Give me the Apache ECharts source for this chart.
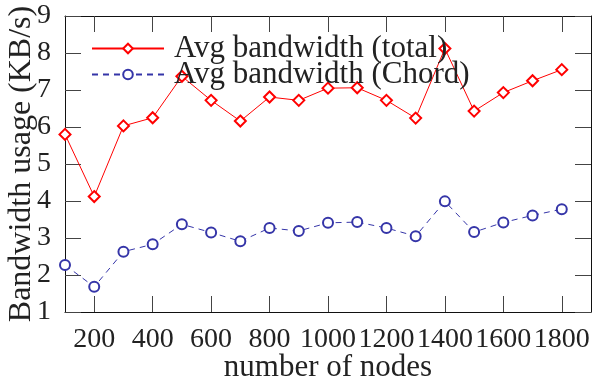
<!DOCTYPE html>
<html>
<head>
<meta charset="utf-8">
<script src="https://cdn.jsdelivr.net/npm/echarts@6/dist/echarts.min.js"></script>
<style>
html,body{margin:0;padding:0;background:#fff}
#wrap{position:relative;width:593px;height:379px}
#axes,#plot{position:absolute;left:0;top:0;width:593px;height:379px}
</style>
</head>
<body>
<div id="wrap"><div id="axes"></div><div id="plot"></div></div>
<script>
const nodes = [100,200,300,400,500,600,700,800,900,1000,1100,1200,1300,1400,1500,1600,1700,1800];
const totalBw = [5.80,4.12,6.03,6.25,7.37,6.72,6.16,6.81,6.72,7.05,7.06,6.72,6.24,8.12,6.43,6.93,7.25,7.55];
const chordBw = [2.27,1.68,2.63,2.83,3.37,3.15,2.91,3.27,3.19,3.41,3.43,3.27,3.05,3.99,3.16,3.42,3.61,3.78];
const xTicks = [200,400,600,800,1000,1200,1400,1600,1800];
const seriesNames = ['Avg bandwidth (total)','Avg bandwidth (Chord)'];
const xTitle = 'number of nodes';
const yTitle = 'Bandwidth usage (KB/s)';

const FONT = 'Liberation Serif';
const TXT = '#222';
const GRID = {left:65, right:2, top:16, bottom:67, containLabel:false, outerBoundsMode:'none'};

// Layer 1: frame, inward ticks and tick labels
const axesChart = echarts.init(document.getElementById('axes'), null, {renderer:'canvas'});
axesChart.setOption({
  animation:false,
  backgroundColor:'#fff',
  grid:Object.assign({}, GRID),
  xAxis:[{
    type:'value', min:100, max:1900, position:'bottom',
    axisLine:{show:true, lineStyle:{color:'#111'}},
    axisTick:{show:true, inside:true, length:16, customValues:xTicks, lineStyle:{color:'#444'}},
    axisLabel:{customValues:xTicks, formatter:v=>String(v), fontFamily:FONT, fontSize:28, color:TXT, margin:14},
    splitLine:{show:false}
  },{
    type:'value', min:100, max:1900, position:'top',
    axisLine:{show:true, lineStyle:{color:'#111'}},
    axisTick:{show:true, inside:true, length:16, customValues:xTicks, lineStyle:{color:'#444'}},
    axisLabel:{show:false}, splitLine:{show:false}
  }],
  yAxis:[{
    type:'value', min:1, max:9, interval:1, position:'left',
    axisLine:{show:true, lineStyle:{color:'#111'}},
    axisTick:{show:true, inside:true, length:16, lineStyle:{color:'#444'}},
    axisLabel:{fontFamily:FONT, fontSize:28, color:TXT, margin:14},
    splitLine:{show:false}
  },{
    type:'value', min:1, max:9, interval:1, position:'right',
    axisLine:{show:true, lineStyle:{color:'#111'}},
    axisTick:{show:true, inside:true, length:16, lineStyle:{color:'#444'}},
    axisLabel:{show:false}, splitLine:{show:false}
  }],
  series:[]
});

// Layer 2: data series, legend and axis titles (same grid and scales)
const plotChart = echarts.init(document.getElementById('plot'), null, {renderer:'canvas'});
plotChart.setOption({
  animation:false,
  backgroundColor:'transparent',
  grid:Object.assign({}, GRID),
  legend:{
    left:86, top:28, orient:'vertical', itemWidth:72, itemHeight:12, itemGap:-5,
    data:seriesNames,
    textStyle:{fontFamily:FONT, fontSize:31, color:TXT, padding:[0,0,0,5]}
  },
  xAxis:{
    type:'value', min:100, max:1900,
    axisLine:{show:false}, axisTick:{show:false}, axisLabel:{show:false}, splitLine:{show:false},
    name:xTitle, nameLocation:'middle', nameGap:40,
    nameTextStyle:{fontFamily:FONT, fontSize:31, color:TXT}
  },
  yAxis:{
    type:'value', min:1, max:9, interval:1,
    axisLine:{show:false}, axisTick:{show:false}, axisLabel:{show:false}, splitLine:{show:false},
    name:yTitle, nameLocation:'middle', nameGap:27,
    nameTextStyle:{fontFamily:FONT, fontSize:32, color:TXT}
  },
  series:[{
    name:seriesNames[0], type:'line',
    data:nodes.map((n,i)=>[n,totalBw[i]]),
    symbol:'emptyDiamond', symbolSize:11,
    lineStyle:{color:'#ff0000', width:1},
    itemStyle:{color:'#ff0000', borderWidth:1}
  },{
    name:seriesNames[1], type:'line',
    data:nodes.map((n,i)=>[n,chordBw[i]]),
    symbol:'emptyCircle', symbolSize:10,
    lineStyle:{color:'#3535a8', width:1, type:[6,5]},
    itemStyle:{color:'#3535a8', borderWidth:1}
  }]
});
</script>
</body>
</html>
